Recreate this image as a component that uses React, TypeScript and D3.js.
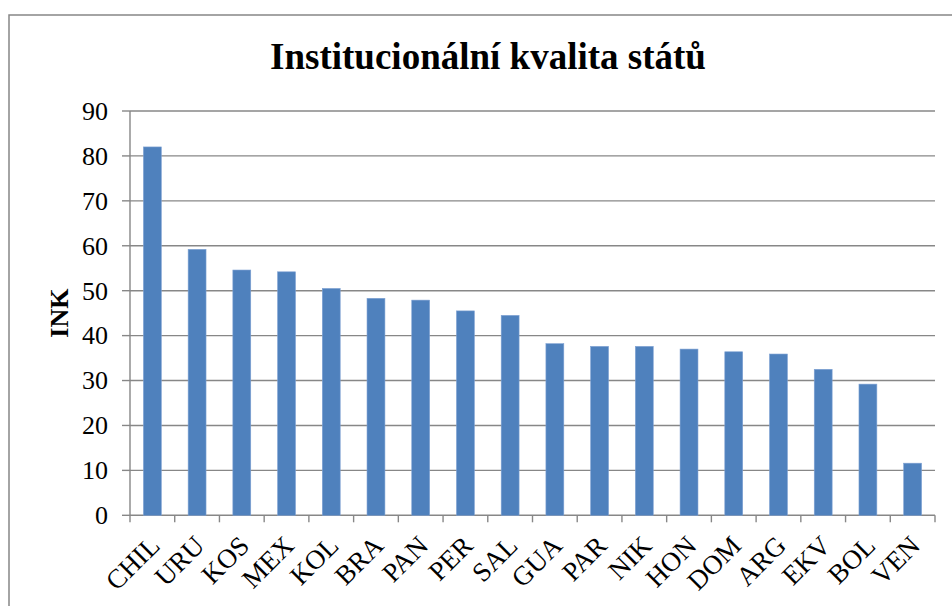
import React from "react";
import * as d3 from "d3";

const categories = ["CHIL","URU","KOS","MEX","KOL","BRA","PAN","PER","SAL","GUA","PAR","NIK","HON","DOM","ARG","EKV","BOL","VEN"];
const values = [82.0,59.2,54.6,54.2,50.5,48.3,47.9,45.5,44.5,38.2,37.6,37.6,37.0,36.4,35.9,32.5,29.2,11.6];
const yTicks = [0,10,20,30,40,50,60,70,80,90];
const title = "Institucionální kvalita států";
const yLabel = "INK";

const W = 952, H = 606;
const left = 130, right = 935, top = 111, bottom = 515.3;
const FONT = "'Liberation Serif', 'Times New Roman', serif";

export default function App() {
  const x = d3.scaleBand<string>().domain(categories).range([left, right]).paddingInner(0.6).paddingOuter(0.3);
  const xb = d3.scaleBand<string>().domain(categories).range([left, right]);
  const y = d3.scaleLinear().domain([0, 90]).range([bottom, top]);
  const grid = "#878787";
  return (
    <svg width={W} height={H} style={{ position: "absolute", left: 0, top: 0, background: "#fff" }} fontFamily={FONT}>
      <rect x={9} y={15} width={W + 20} height={H + 20} fill="#fff" stroke={grid} strokeWidth={1.5} />
      <text x={488} y={69} textAnchor="middle" fontSize={37} fontWeight="bold" fill="#000">{title}</text>
      {yTicks.map(t => (
        <g key={t}>
          {t > 0 && <line x1={left} x2={right} y1={y(t)} y2={y(t)} stroke={grid} strokeWidth={1.4} />}
          <line x1={left - 8} x2={left} y1={y(t)} y2={y(t)} stroke={grid} strokeWidth={1.4} />
          <text x={108} y={y(t)} dy="0.34em" textAnchor="end" fontSize={26} fill="#000">{t}</text>
        </g>
      ))}
      <line x1={left} x2={left} y1={top} y2={bottom} stroke={grid} strokeWidth={1.4} />
      <line x1={left} x2={right} y1={bottom} y2={bottom} stroke={grid} strokeWidth={1.4} />
      {categories.map((c) => (
        <line key={"t" + c} x1={xb(c)!} x2={xb(c)!} y1={bottom} y2={bottom + 7} stroke={grid} strokeWidth={1.4} />
      ))}
      <line x1={right} x2={right} y1={bottom} y2={bottom + 7} stroke={grid} strokeWidth={1.4} />
      {categories.map((c, i) => (
        <rect key={c} x={x(c)!} y={y(values[i])} width={x.bandwidth()} height={bottom - y(values[i])} fill="#4F81BD" stroke="#7EA1D3" strokeWidth={0.6} />
      ))}
      {categories.map((c) => {
        const cx = x(c)! + x.bandwidth() / 2 + 9;
        const cy = bottom + 32;
        return (
          <text key={"l" + c} x={cx} y={cy} textAnchor="end" fontSize={27} fill="#000" transform={`rotate(-45 ${cx} ${cy})`}>{c}</text>
        );
      })}
      <text x={0} y={0} transform={`translate(68 ${(top + bottom) / 2}) rotate(-90)`} textAnchor="middle" fontSize={26} fontWeight="bold" fill="#000">{yLabel}</text>
    </svg>
  );
}
